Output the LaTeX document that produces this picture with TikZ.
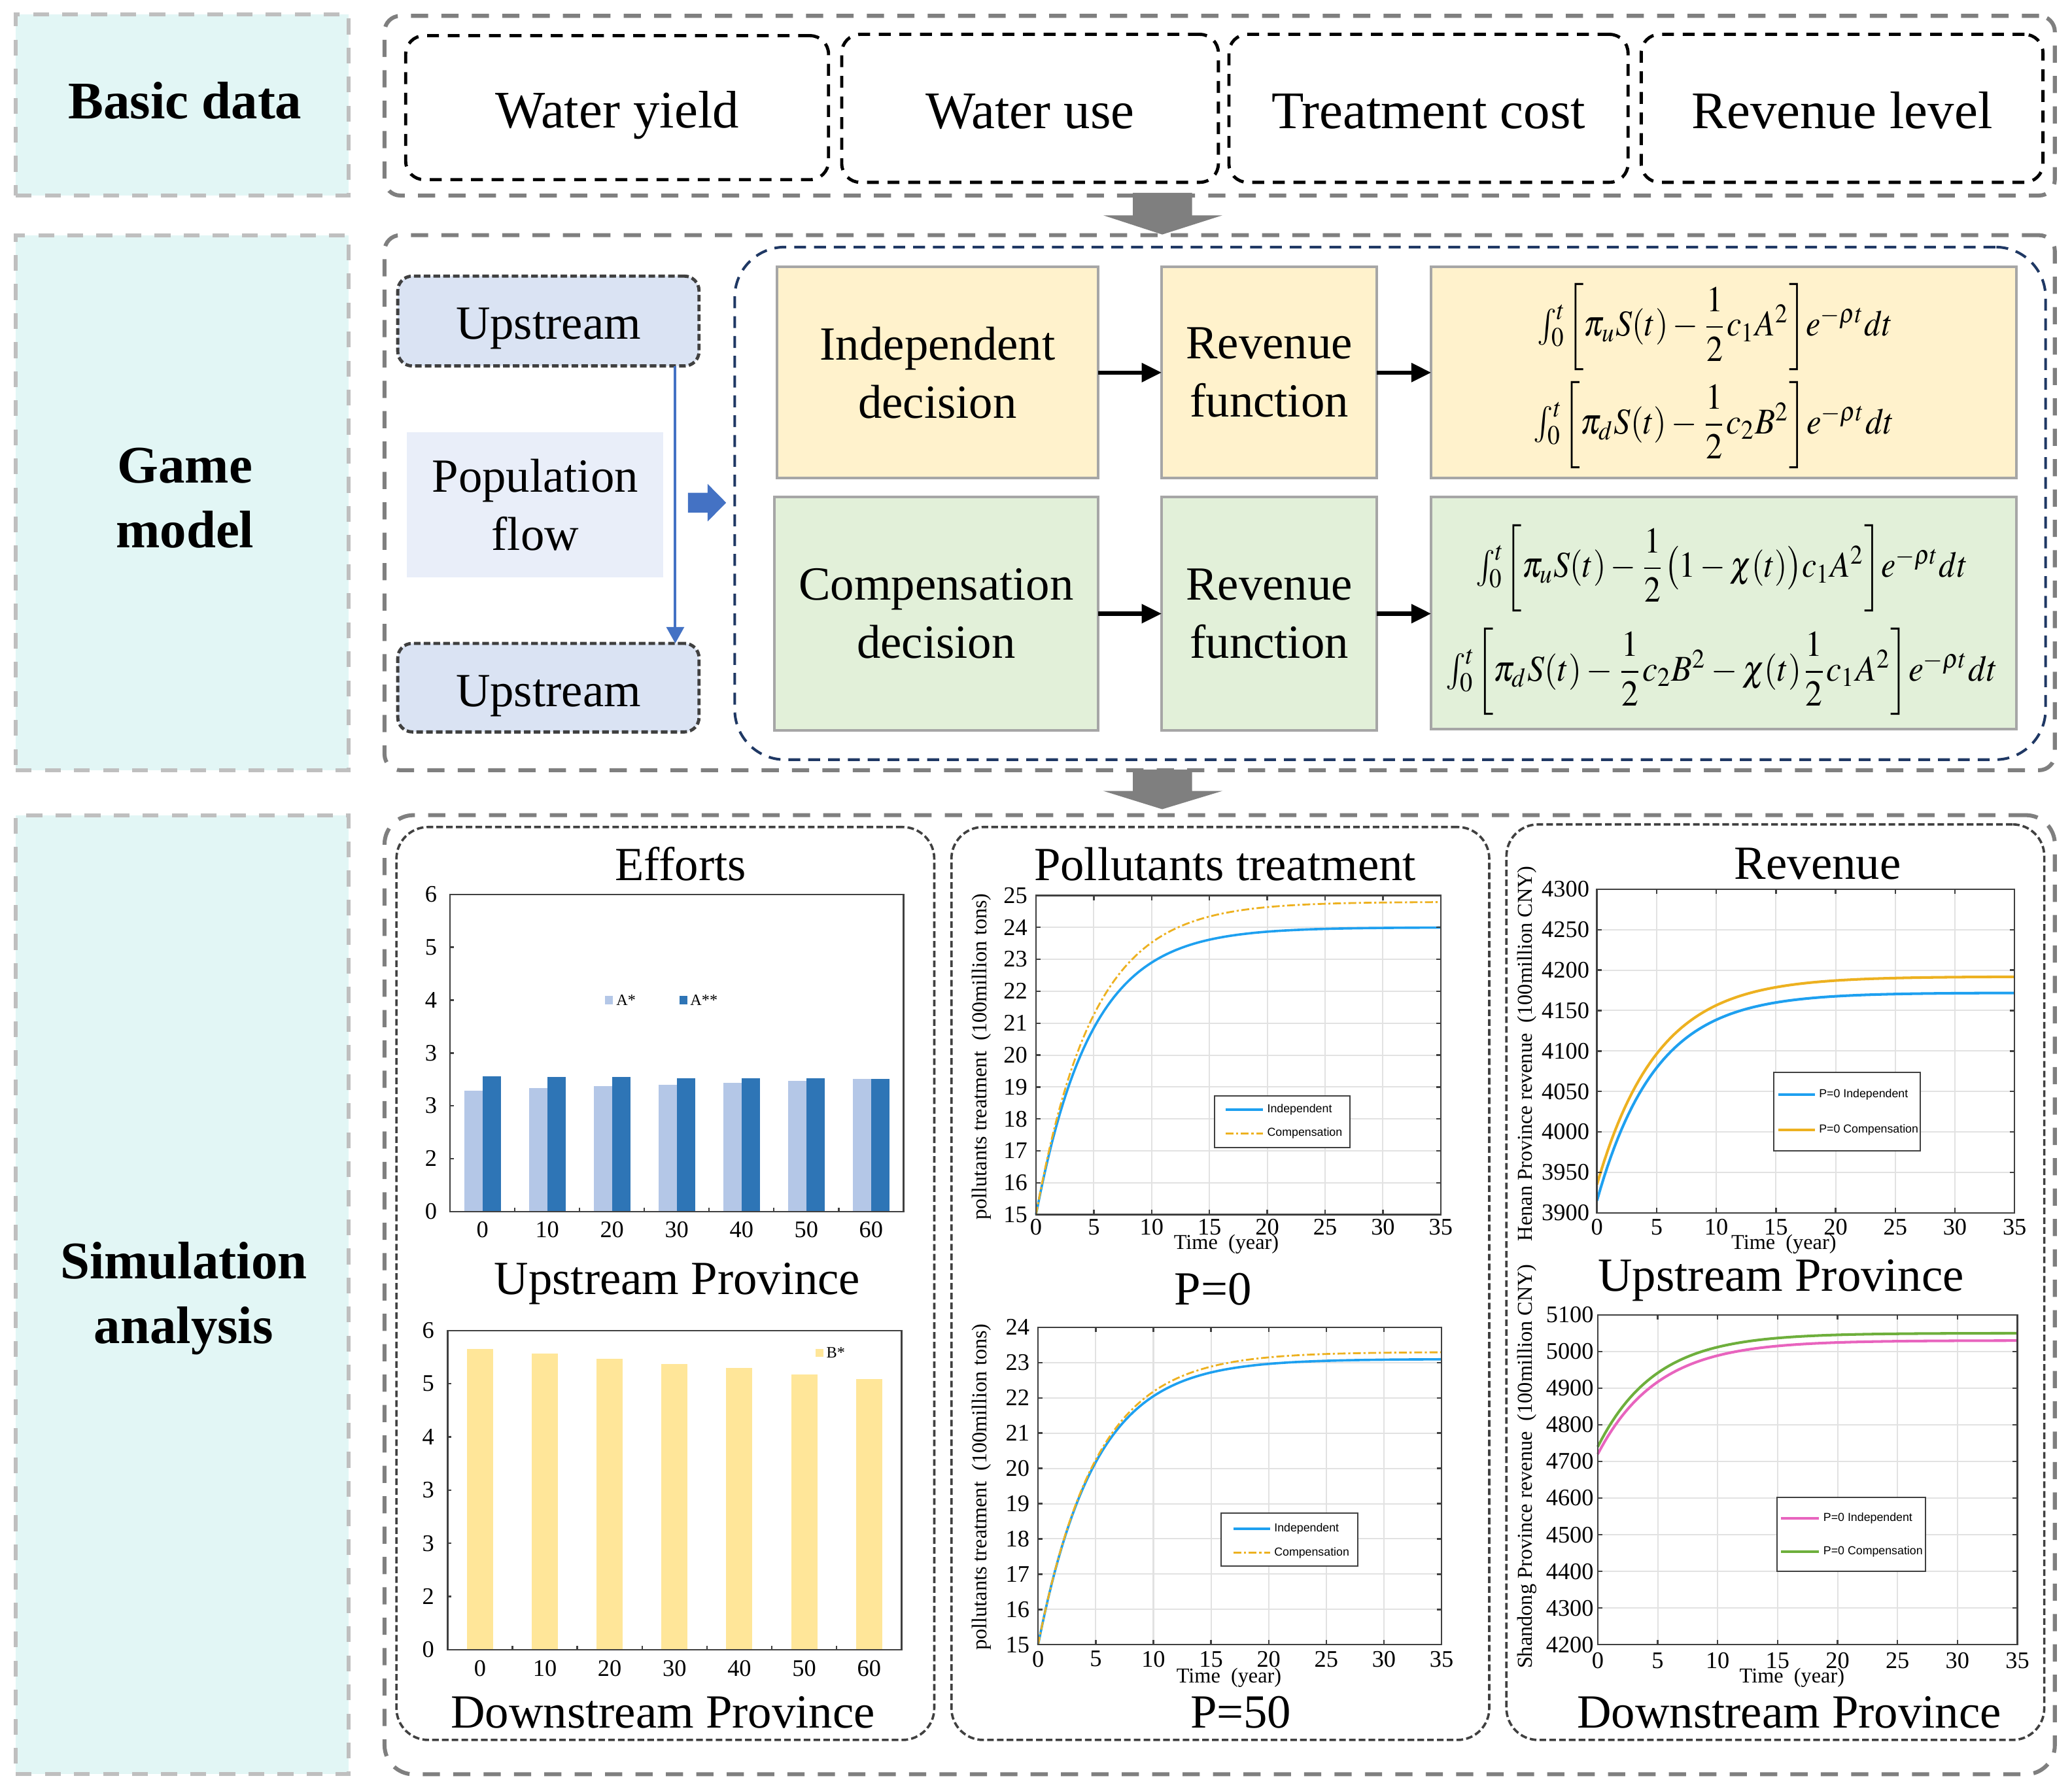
\documentclass[tikz,border=0pt]{standalone}
\usepackage{amsmath}
\usepackage{mathptmx}
\usepackage{graphicx}
\usepackage[no-math]{fontspec}
\setmainfont{Liberation Serif}
\newfontfamily\sansf{Liberation Sans}
\usetikzlibrary{arrows.meta,calc}

\definecolor{cyanfill}{RGB}{226,246,245}
\definecolor{lgray}{RGB}{191,191,191}
\definecolor{mgray}{RGB}{127,127,127}
\definecolor{dgray}{RGB}{64,64,64}
\definecolor{navy}{RGB}{31,56,100}
\definecolor{upfill}{RGB}{218,227,243}
\definecolor{popfill}{RGB}{233,238,249}
\definecolor{yfill}{RGB}{255,242,204}
\definecolor{gfill}{RGB}{226,240,217}
\definecolor{boxgray}{RGB}{166,166,166}
\definecolor{blueA}{RGB}{68,114,196}
\definecolor{barA}{RGB}{180,199,231}
\definecolor{barAA}{RGB}{46,117,182}
\definecolor{barB}{RGB}{255,230,153}
\definecolor{cInd}{RGB}{30,160,240}
\definecolor{cComp}{RGB}{237,177,32}
\definecolor{cPink}{RGB}{232,100,190}
\definecolor{cGreen}{RGB}{110,175,60}
\definecolor{gridc}{RGB}{226,226,226}

\newsavebox{\fmbox}
\newcommand{\fitformula}[3]{%
  \sbox{\fmbox}{#3}%
  \pgfmathsetmacro{\fmsx}{#1/\wd\fmbox}%
  \pgfmathsetmacro{\fmsy}{#2/(\ht\fmbox+\dp\fmbox)}%
  \scalebox{\fmsx}[\fmsy]{\usebox{\fmbox}}}

\begin{document}
\begin{tikzpicture}[x=0.5pt,y=-0.5pt,
 sz/.style 2 args={minimum width={(#1)*0.5pt},minimum height={(#2)*0.5pt},inner sep=0pt,outer sep=0pt},
 lpanel/.style={draw=lgray,line width=1.5pt,dash pattern=on 6pt off 5pt,fill=cyanfill},
 obox/.style={draw=mgray,line width=1.5pt,dash pattern=on 6.5pt off 5pt,rounded corners=6pt},
 dbox/.style={draw=black,line width=1.2pt,dash pattern=on 4.5pt off 3.3pt,rounded corners=7pt,text height=15.4pt,text depth=0pt},
 upbox/.style={draw=dgray,line width=1.2pt,dash pattern=on 2.5pt off 1.2pt,rounded corners=5.5pt,fill=upfill,text depth=0pt},
 navybox/.style={draw=navy,line width=1pt,dash pattern=on 4.5pt off 3pt,rounded corners=19pt},
 ybox/.style={draw=boxgray,line width=1pt,fill=yfill},
 gbox/.style={draw=boxgray,line width=1pt,fill=gfill},
 cbox/.style={draw=dgray,line width=0.9pt,dash pattern=on 2.5pt off 1.2pt,rounded corners=12pt},
 txthead/.style={font=\fontsize{20}{24.5}\selectfont\bfseries,align=center,inner sep=0pt},
 txtbig/.style={font=\fontsize{20}{24}\selectfont,align=center},
 txtmid/.style={font=\fontsize{18}{22}\selectfont,align=center},
 barrow/.style={draw=black,line width=1.5pt,-{Triangle[length=7.5pt,width=7pt]}},
 blueline/.style={draw=blueA,line width=1pt,-{Triangle[length=6.2pt,width=6.6pt]}},
 ticklab/.style={font=\fontsize{9}{9}\selectfont,inner sep=0pt},
 axlab/.style={font=\fontsize{8}{8}\selectfont,inner sep=0pt},
 legtxt/.style={font=\sansf\fontsize{4.4}{5}\selectfont,inner sep=0pt,anchor=west},
 legser/.style={font=\fontsize{6}{6}\selectfont,inner sep=0pt,anchor=west},
 axframe/.style={draw=dgray,line width=0.6pt},
 gridln/.style={draw=gridc,line width=0.5pt},
 legbox/.style={draw=dgray,line width=0.5pt,fill=white},
 ]
\useasboundingbox (0,0) rectangle (1568,1355.6);
\fill[white] (0,0) rectangle (1568,1355.6);

% ---------- left panels ----------
\node[lpanel,sz={252}{137}] (pBasic) at (138,79.5) {};
\node[lpanel,sz={252}{405}] (pGame) at (138,380.5) {};
\node[lpanel,sz={252}{726}] (pSim) at (138,980) {};
\node[txthead] (tBasic) at (140,76) {Basic data};
\node[txthead] (tGame) at (140,377) {Game\\model};
\node[txthead] (tSim) at (139,983) {Simulation\\analysis};

% ---------- outer boxes ----------
\node[obox,sz={1264}{136}] (oRow1) at (923,80) {};
\node[obox,sz={1264}{405}] (oRow2) at (923,380.5) {};
\node[obox,sz={1264}{726},rounded corners=11pt] (oRow3) at (923,980) {};

% ---------- row 1 ----------
\node[dbox,sz={320}{109},txtbig] (bWY) at (467,81.5) {Water yield};
\node[dbox,sz={285}{112},txtbig] (bWU) at (779.5,82) {Water use};
\node[dbox,sz={302}{112},txtbig] (bTC) at (1081,82) {Treatment cost};
\node[dbox,sz={304}{112},txtbig] (bRL) at (1394,82) {Revenue level};

% gray block arrows
\fill[mgray] (857.3,146) -- (902.1,146) -- (902.1,163) -- (925,163) -- (879.5,177.5) -- (835,163) -- (857.3,163) -- cycle;
\fill[mgray] (857.3,582.5) -- (902.1,582.5) -- (902.1,598.7) -- (925,598.7) -- (879.5,612.5) -- (835,598.7) -- (857.3,598.7) -- cycle;

% ---------- row 2 ----------
\node[upbox,sz={228}{68},txtmid,text height=13.6pt] (uTop) at (415,243) {Upstream};
\node[upbox,sz={228}{67},txtmid,text height=14.4pt] (uBot) at (415,520.5) {Upstream};
\node[fill=popfill,sz={194}{110},txtmid] (pop) at (405,382) {Population\\flow};
\draw[blueline] (uTop.south -| 511,0) -- (uBot.north -| 511,0);
\fill[blueA] (520.6,373) -- (535.5,373) -- (535.5,366.3) -- (549.5,380.5) -- (535.5,394.7) -- (535.5,388) -- (520.6,388) -- cycle;

\node[navybox,sz={992}{388}] (navy) at (1052,381) {};

\node[ybox,sz={243}{160},txtmid] (bInd) at (709.5,282) {Independent\\decision};
\node[ybox,sz={163}{160},txtmid] (bRF1) at (960.5,282) {Revenue\\function};
\node[ybox,sz={443}{160}] (bF1) at (1304.5,282) {};
\node[gbox,sz={245}{177},txtmid] (bComp) at (708.5,464.5) {Compensation\\decision};
\node[gbox,sz={163}{177},txtmid] (bRF2) at (960.5,464.5) {Revenue\\function};
\node[gbox,sz={443}{176}] (bF2) at (1304.5,464) {};

\draw[barrow] (bInd.east) -- (bRF1.west);
\draw[barrow] (bRF1.east) -- (bF1.west);
\draw[barrow] (bComp.east) -- (bRF2.west);
\draw[barrow] (bRF2.east) -- (bRF2.east -| bF2.west);

\node[inner sep=0pt] (fY1) at (1298,247.5) {\fitformula{134.4pt}{33pt}{$\int_0^t\!\left[\pi_u S(t)-\dfrac{1}{2}c_1A^2\right]\!e^{-\rho t}dt$}};
\node[inner sep=0pt] (fY2) at (1297,321.5) {\fitformula{136.5pt}{33pt}{$\int_0^t\!\left[\pi_d S(t)-\dfrac{1}{2}c_2B^2\right]\!e^{-\rho t}dt$}};
\node[inner sep=0pt] (fG1) at (1303,430) {\fitformula{186pt}{33pt}{$\int_0^t\!\left[\pi_u S(t)-\dfrac{1}{2}\bigl(1-\chi(t)\bigr)c_1A^2\right]\!e^{-\rho t}dt$}};
\node[inner sep=0pt] (fG2) at (1303,508.5) {\fitformula{209pt}{33pt}{$\int_0^t\!\left[\pi_d S(t)-\dfrac{1}{2}c_2B^2-\chi(t)\dfrac{1}{2}c_1A^2\right]\!e^{-\rho t}dt$}};

% ---------- row 3 boxes ----------
\node[cbox,sz={407}{691}] (bxEff) at (503.5,971.5) {};
\node[cbox,sz={407}{691}] (bxPol) at (923.5,971.5) {};
\node[cbox,sz={407}{693}] (bxRev) at (1343.5,970.5) {};

% ---------- Efforts ----------
\node[txtmid] (tEff) at (515,654) {Efforts};
\node[txtmid] (tEffU) at (512.5,971.5) {Upstream Province};
\node[txtmid] (tEffD) at (501.7,1296) {Downstream Province};

\foreach \i/\a/\b in {0/2.284/2.556,1/2.331/2.544,2/2.367/2.544,3/2.402/2.521,4/2.438/2.521,5/2.473/2.521,6/2.509/2.509}{
  \pgfmathsetmacro{\c}{340.6+(\i+0.5)*49.01}
  \pgfmathtruncatemacro{\lab}{\i*10}
  \fill[barA] (\c-13.85,917) rectangle (\c,917-\a*40);
  \fill[barAA] (\c,917) rectangle (\c+13.85,917-\b*40);
  \node[ticklab] (ex\i) at (\c,931) {\lab};
}
\foreach \k/\t in {0/0,1/2,2/3,3/3,4/4,5/5,6/6}{
  \node[ticklab,anchor=east] (ey\k) at (331,917-\k*40) {\t};
  \draw[axframe] (340.6,917-\k*40) -- ++(3,0);
}
\foreach \j in {1,...,6} \draw[axframe] (340.6+\j*49.01,917) -- ++(0,-3);
\draw[axframe] (340.6,677) rectangle (683.7,917);
\fill[barA] (458,754) rectangle (464,760);
\node[legser] (lgA) at (466,757) {A*};
\fill[barAA] (514,754) rectangle (520,760);
\node[legser] (lgAA) at (522,757) {A**};

\foreach \i/\b in {0/5.647,1/5.565,2/5.47,3/5.376,4/5.294,5/5.176,6/5.082}{
  \pgfmathsetmacro{\c}{338.7+(\i+0.5)*49.07}
  \pgfmathtruncatemacro{\lab}{\i*10}
  \fill[barB] (\c-9.9,1248.7) rectangle (\c+9.9,1248.7-\b*40.27);
  \node[ticklab] (fx\i) at (\c,1262.8) {\lab};
}
\foreach \k/\t in {0/0,1/2,2/3,3/3,4/4,5/5,6/6}{
  \node[ticklab,anchor=east] (fy\k) at (329,1248.7-\k*40.27) {\t};
  \draw[axframe] (338.7,1248.7-\k*40.27) -- ++(3,0);
}
\foreach \j in {1,...,6} \draw[axframe] (338.7+\j*49.07,1248.7) -- ++(0,-3);
\draw[axframe] (338.7,1007.1) rectangle (682.2,1248.7);
\fill[barB] (617,1021) rectangle (623,1027);
\node[legser] (lgB) at (625,1024) {B*};

% ---------- Pollutants treatment ----------
\node[txtmid] (tPol) at (927,654) {Pollutants treatment};
\node[txtmid] (tP0) at (918,976) {P=0};
\node[txtmid] (tP50) at (939,1296) {P=50};

\begin{scope}[shift={(784,919.4)},xscale=8.751,yscale=-24.16]
  \foreach \t in {5,10,...,30} \draw[gridln] (\t,0) -- (\t,10);
  \foreach \v in {1,...,9} \draw[gridln] (0,\v) -- (35,\v);
  \draw[cInd,line width=0.9pt] plot[domain=0:35,samples=120] (\x,{9-9*exp(-0.21*\x)});
  \draw[cComp,line width=0.7pt,dash pattern=on 3pt off 1pt on 0.8pt off 1pt] plot[domain=0:35,samples=120] (\x,{9.8-9.8*exp(-0.204*\x)});
  \draw[axframe] (0,0) rectangle (35,10);
  \foreach \t in {0,5,...,35}{
    \draw[axframe] (\t,0) -- (\t,0.15); \draw[axframe] (\t,10) -- (\t,9.85);
    \node[ticklab] (pax\t) at (\t,-0.393) {\t};
  }
  \foreach \v in {0,...,10}{
    \draw[axframe] (0,\v) -- (0.4,\v); \draw[axframe] (35,\v) -- (34.6,\v);
    \pgfmathtruncatemacro{\lab}{15+\v}
    \node[ticklab,anchor=east] (pay\v) at (-0.7,\v) {\lab};
  }
\end{scope}
\draw[legbox] (919.3,829.4) rectangle (1021.6,868.7);
\draw[cInd,line width=0.9pt] (927.4,839.8) -- (955.9,839.8);
\draw[cComp,line width=0.7pt,dash pattern=on 3pt off 1pt on 0.8pt off 1pt] (927.4,857.8) -- (955.9,857.8);
\node[legtxt] (lp1a) at (958.6,839.8) {Independent};
\node[legtxt] (lp1b) at (958.6,857.8) {Compensation};
\node[axlab,rotate=90] (ylP1) at (742.6,799.8) {pollutants treatment\hspace{0.5em}(100million tons)};
\node[axlab] (xlP1) at (928,942) {Time\hspace{0.5em}(year)};

\begin{scope}[shift={(785.6,1244.9)},xscale=8.723,yscale=-26.69]
  \foreach \t in {5,10,...,30} \draw[gridln] (\t,0) -- (\t,9);
  \foreach \v in {1,...,8} \draw[gridln] (0,\v) -- (35,\v);
  \draw[cInd,line width=0.9pt] plot[domain=0:35,samples=120] (\x,{8.1-8.1*exp(-0.204*\x)});
  \draw[cComp,line width=0.7pt,dash pattern=on 3pt off 1pt on 0.8pt off 1pt] plot[domain=0:35,samples=120] (\x,{8.3-8.3*exp(-0.2*\x)});
  \draw[axframe] (0,0) rectangle (35,9);
  \foreach \t in {0,5,...,35}{
    \draw[axframe] (\t,0) -- (\t,0.135); \draw[axframe] (\t,9) -- (\t,8.865);
    \node[ticklab] (pbx\t) at (\t,-0.408) {\t};
  }
  \foreach \v in {0,...,9}{
    \draw[axframe] (0,\v) -- (0.4,\v); \draw[axframe] (35,\v) -- (34.6,\v);
    \pgfmathtruncatemacro{\lab}{15+\v}
    \node[ticklab,anchor=east] (pby\v) at (-0.7,\v) {\lab};
  }
\end{scope}
\draw[legbox] (924.2,1145.4) rectangle (1027.3,1185.6);
\draw[cInd,line width=0.9pt] (933.4,1157.2) -- (961.4,1157.2);
\draw[cComp,line width=0.7pt,dash pattern=on 3pt off 1pt on 0.8pt off 1pt] (933.4,1175.2) -- (961.4,1175.2);
\node[legtxt] (lp2a) at (963.9,1157.2) {Independent};
\node[legtxt] (lp2b) at (963.9,1175.2) {Compensation};
\node[axlab,rotate=90] (ylP2) at (742.6,1125.5) {pollutants treatment\hspace{0.5em}(100million tons)};
\node[axlab] (xlP2) at (930,1270) {Time\hspace{0.5em}(year)};

% ---------- Revenue ----------
\node[txtmid] (tRev) at (1375.5,654) {Revenue};
\node[txtmid] (tRevU) at (1347.8,969.2) {Upstream Province};
\node[txtmid] (tRevD) at (1354,1296) {Downstream Province};

\begin{scope}[shift={(1208.5,918)},xscale=9.029,yscale=-0.6123]
  \foreach \t in {5,10,...,30} \draw[gridln] (\t,0) -- (\t,400);
  \foreach \v in {50,100,...,350} \draw[gridln] (0,\v) -- (35,\v);
  \draw[cInd,line width=1pt] plot[domain=0:35,samples=120] (\x,{272-257*exp(-0.204*\x)});
  \draw[cComp,line width=1pt] plot[domain=0:35,samples=120] (\x,{292-257*exp(-0.198*\x)});
  \draw[axframe] (0,0) rectangle (35,400);
  \foreach \t in {0,5,...,35}{
    \draw[axframe] (\t,0) -- (\t,6); \draw[axframe] (\t,400) -- (\t,394);
    \node[ticklab] (rax\t) at (\t,-17.8) {\t};
  }
  \foreach \v in {0,50,...,400}{
    \draw[axframe] (0,\v) -- (0.4,\v); \draw[axframe] (35,\v) -- (34.6,\v);
    \pgfmathtruncatemacro{\lab}{3900+\v}
    \node[ticklab,anchor=east] (ray\v) at (-0.6,\v) {\lab};
  }
\end{scope}
\draw[legbox] (1342.1,811.9) rectangle (1453.3,871.1);
\draw[cInd,line width=1pt] (1345.7,828.5) -- (1373.4,828.5);
\draw[cComp,line width=1pt] (1345.7,855.4) -- (1373.4,855.4);
\node[legtxt] (lr1a) at (1376.2,828.5) {P=0 Independent};
\node[legtxt] (lr1b) at (1376.2,855.4) {P=0 Compensation};
\node[axlab,rotate=90] (ylR1) at (1155.8,797.5) {Henan Province revenue\hspace{0.5em}(100million CNY)};
\node[axlab] (xlR1) at (1349.9,942) {Time\hspace{0.5em}(year)};

\begin{scope}[shift={(1209.1,1244.9)},xscale=9.074,yscale=-0.2774]
  \foreach \t in {5,10,...,30} \draw[gridln] (\t,0) -- (\t,900);
  \foreach \v in {100,200,...,800} \draw[gridln] (0,\v) -- (35,\v);
  \draw[cPink,line width=1pt] plot[domain=0:35,samples=120] (\x,{830-310*exp(-0.202*\x)});
  \draw[cGreen,line width=1pt] plot[domain=0:35,samples=120] (\x,{850-310*exp(-0.21*\x)});
  \draw[axframe] (0,0) rectangle (35,900);
  \foreach \t in {0,5,...,35}{
    \draw[axframe] (\t,0) -- (\t,13); \draw[axframe] (\t,900) -- (\t,887);
    \node[ticklab] (rbx\t) at (\t,-44.3) {\t};
  }
  \foreach \v in {0,100,...,900}{
    \draw[axframe] (0,\v) -- (0.4,\v); \draw[axframe] (35,\v) -- (34.6,\v);
    \pgfmathtruncatemacro{\lab}{4200+\v}
    \node[ticklab,anchor=east] (rby\v) at (-0.3,\v) {\lab};
  }
\end{scope}
\draw[legbox] (1344.9,1133.6) rectangle (1456.9,1189.5);
\draw[cPink,line width=1pt] (1347.9,1149.2) -- (1376.2,1149.2);
\draw[cGreen,line width=1pt] (1347.9,1174.3) -- (1376.2,1174.3);
\node[legtxt] (lr2a) at (1379.5,1149.2) {P=0 Independent};
\node[legtxt] (lr2b) at (1379.5,1174.3) {P=0 Compensation};
\node[axlab,rotate=90] (ylR2) at (1155.8,1110) {Shandong Province revenue\hspace{0.5em}(100million CNY)};
\node[axlab] (xlR2) at (1356.1,1270) {Time\hspace{0.5em}(year)};

\end{tikzpicture}
\end{document}
